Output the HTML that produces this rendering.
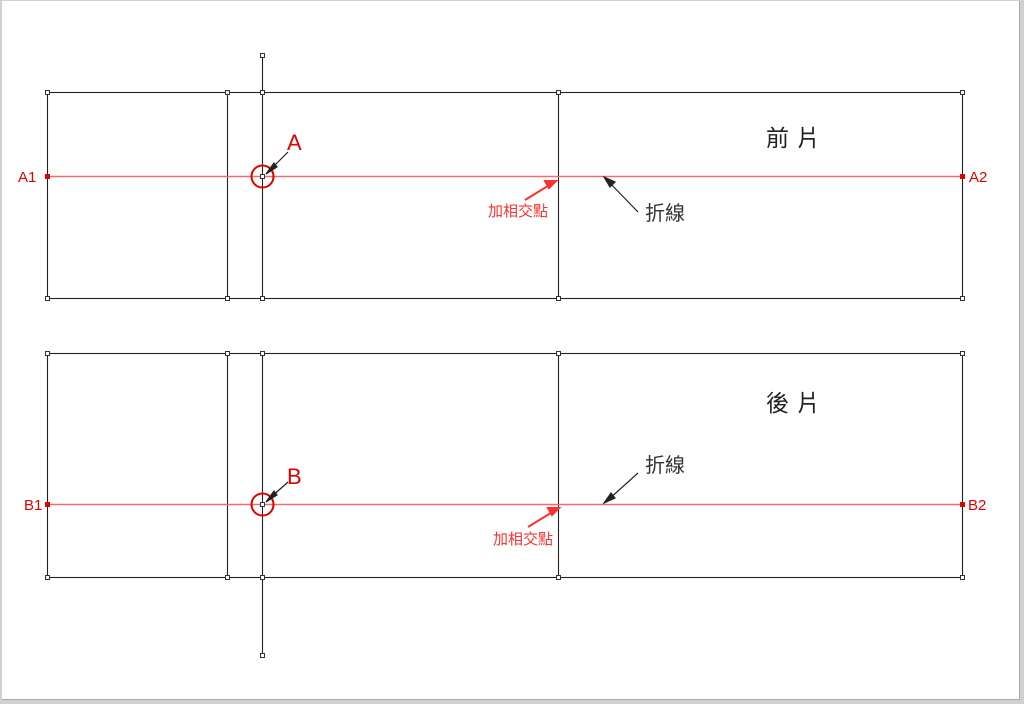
<!DOCTYPE html>
<html><head><meta charset="utf-8"><style>
html,body{margin:0;padding:0;background:#d0d0d0;}
svg{display:block}
</style></head><body>
<svg width="1024" height="704" viewBox="0 0 1024 704" xmlns="http://www.w3.org/2000/svg">
<rect x="0" y="0" width="1024" height="704" fill="#d0d0d0"/>
<rect x="2" y="1" width="1017" height="698" fill="#fff"/>
<line x1="1019.5" y1="1" x2="1019.5" y2="700" stroke="#aaa"/>
<line x1="2" y1="699.5" x2="1020" y2="699.5" stroke="#aaa"/>
<g stroke="#222" stroke-width="1.1" fill="none">
<rect x="47.5" y="92.5" width="915" height="206"/>
<line x1="227.5" y1="92" x2="227.5" y2="298"/>
<line x1="558.5" y1="92" x2="558.5" y2="298"/>
<line x1="262.5" y1="55" x2="262.5" y2="298"/>
<rect x="47.5" y="353.5" width="915" height="224"/>
<line x1="227.5" y1="353" x2="227.5" y2="577"/>
<line x1="558.5" y1="353" x2="558.5" y2="577"/>
<line x1="262.5" y1="353" x2="262.5" y2="655"/>
</g>
<g stroke="#f07070" stroke-width="1.5">
<line x1="47" y1="176.5" x2="962" y2="176.5"/>
<line x1="47" y1="504.5" x2="962" y2="504.5"/>
</g>
<g fill="#fff" stroke="#333" stroke-width="1">
<rect x="45.5" y="90.5" width="4" height="4"/><rect x="225.5" y="90.5" width="4" height="4"/><rect x="260.5" y="90.5" width="4" height="4"/><rect x="556.5" y="90.5" width="4" height="4"/><rect x="960.5" y="90.5" width="4" height="4"/>
<rect x="45.5" y="296.5" width="4" height="4"/><rect x="225.5" y="296.5" width="4" height="4"/><rect x="260.5" y="296.5" width="4" height="4"/><rect x="556.5" y="296.5" width="4" height="4"/><rect x="960.5" y="296.5" width="4" height="4"/>
<rect x="260.5" y="53.5" width="4" height="4"/><rect x="260.5" y="174.5" width="4" height="4"/>
<rect x="45.5" y="351.5" width="4" height="4"/><rect x="225.5" y="351.5" width="4" height="4"/><rect x="260.5" y="351.5" width="4" height="4"/><rect x="556.5" y="351.5" width="4" height="4"/><rect x="960.5" y="351.5" width="4" height="4"/>
<rect x="45.5" y="575.5" width="4" height="4"/><rect x="225.5" y="575.5" width="4" height="4"/><rect x="260.5" y="575.5" width="4" height="4"/><rect x="556.5" y="575.5" width="4" height="4"/><rect x="960.5" y="575.5" width="4" height="4"/>
<rect x="260.5" y="653.5" width="4" height="4"/><rect x="260.5" y="502.5" width="4" height="4"/>
</g>
<g fill="#e00000"><rect x="45" y="174" width="5" height="5"/><rect x="960" y="174" width="5" height="5"/><rect x="45" y="502" width="5" height="5"/><rect x="960" y="502" width="5" height="5"/></g>
<g fill="none" stroke="#e00000" stroke-width="2"><circle cx="262.5" cy="176.5" r="11"/><circle cx="262.5" cy="504.5" r="11"/></g>
<g stroke="#222" stroke-width="1.2" fill="#222">
<line x1="288" y1="152" x2="270" y2="170"/><polygon points="266,174 274,163 277,167"/>
<line x1="288" y1="482" x2="270" y2="498"/><polygon points="266,502 274,491 277,495"/>
<line x1="638" y1="212" x2="608" y2="181"/><polygon points="604,177 615,182 610,187"/>
<line x1="638" y1="473" x2="608" y2="500"/><polygon points="604,503 611,493 615,498"/>
</g>
<g stroke="#ff3030" stroke-width="2" fill="#ff3030">
<line x1="525" y1="200" x2="551" y2="184"/><polygon points="556,181 545,181 549,188"/>
<line x1="528" y1="527" x2="554" y2="511"/><polygon points="559,508 548,508 552,515"/>
</g>
<g font-family="Liberation Sans, 'Noto Sans CJK TC', sans-serif">
<text x="18" y="182" font-size="15" fill="#e00000">A1</text>
<text x="969" y="182" font-size="15" fill="#e00000">A2</text>
<text x="24" y="510" font-size="15" fill="#e00000">B1</text>
<text x="968" y="510" font-size="15" fill="#e00000">B2</text>
<text x="287" y="150" font-size="22" fill="#e00000">A</text>
<text x="287" y="484" font-size="22" fill="#e00000">B</text>
<text x="488" y="216" font-size="15" fill="#ff3030" font-family="'Noto Sans CJK TC',sans-serif">加相交點</text>
<text x="493" y="544" font-size="15" fill="#ff3030" font-family="'Noto Sans CJK TC',sans-serif">加相交點</text>
<text x="645" y="220" font-size="20" fill="#333" font-family="'Noto Sans CJK TC',sans-serif">折線</text>
<text x="645" y="472" font-size="20" fill="#333" font-family="'Noto Sans CJK TC',sans-serif">折線</text>
<text x="766" y="146" font-size="23" fill="#222" font-family="'Noto Sans CJK TC',sans-serif" letter-spacing="8">前片</text>
<text x="766" y="411" font-size="23" fill="#222" font-family="'Noto Sans CJK TC',sans-serif" letter-spacing="8">後片</text>
</g>
</svg>
</body></html>
